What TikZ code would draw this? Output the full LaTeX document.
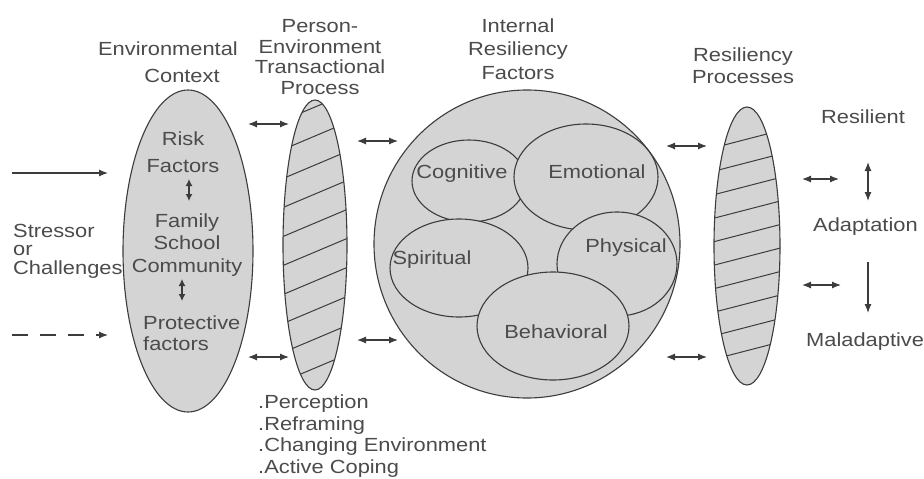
\documentclass[tikz,border=0pt]{standalone}
\usepackage{fontspec}
\setmainfont{Liberation Sans}[FakeStretch=1.15]
\usetikzlibrary{shapes.geometric,arrows.meta}
\definecolor{fillgray}{RGB}{212,212,212}
\definecolor{linegray}{RGB}{60,60,60}
\definecolor{txtgray}{RGB}{75,75,75}
\begin{document}
\begin{tikzpicture}[x=1pt,y=-1pt,
  lbl/.style={text=txtgray,font=\fontsize{19}{21}\selectfont,inner sep=0pt,align=center},
  ell/.style={ellipse,draw=linegray,fill=fillgray,line width=1.1pt,inner sep=0pt},
  hatchline/.style={draw=linegray,line width=1pt},
  arr/.style={draw=linegray,line width=1.2pt,-{Latex[length=9pt,width=7pt]}},
  darr/.style={draw=linegray,line width=1.2pt,{Latex[length=9pt,width=7pt]}-{Latex[length=9pt,width=7pt]}},
  sdarr/.style={draw=linegray,line width=1.2pt,{Latex[length=7pt,width=7pt]}-{Latex[length=7pt,width=7pt]}}
]
\useasboundingbox[fill=white] (0,0) rectangle (924,479);

% main ellipses
\node[ell,minimum width=130pt,minimum height=322pt] (env) at (188,251) {};
\node[ell,minimum width=64pt,minimum height=290pt] (pe) at (315,245) {};
\begin{scope}
  \clip (315,245) ellipse [x radius=32, y radius=145];
  \foreach \yl in {126,155,...,390} \draw[hatchline] (270,\yl) -- (360,\yl-38);
\end{scope}

\node[ell,minimum width=306pt,minimum height=308pt] (big) at (527,244) {};
\node[ell,minimum width=114pt,minimum height=82pt] (cog) at (469,181) {};
\node[ell,minimum width=144pt,minimum height=106pt] (emo) at (586,177) {};
\node[ell,minimum width=138pt,minimum height=98pt] (spi) at (459,268) {};
\node[ell,minimum width=120pt,minimum height=104pt] (phy) at (617,264) {};
\node[ell,minimum width=152pt,minimum height=108pt] (beh) at (553,326) {};

\node[ell,minimum width=66pt,minimum height=278pt] (rp) at (747,246) {};
\begin{scope}
  \clip (747,246) ellipse [x radius=33, y radius=139];
  \foreach \yl in {150,173.5,...,380} \draw[hatchline] (705,\yl) -- (790,\yl-22);
\end{scope}

% inner labels
\node[lbl] (cogl) at (462,174) {Cognitive};
\node[lbl] (emol) at (597,172) {Emotional};
\node[lbl] (spil) at (432,260) {Spiritual};
\node[lbl] (phyl) at (626,248) {Physical};
\node[lbl] (behl) at (556,332) {Behavioral};

% headings
\node[lbl] (envt1) at (168,49) {Environmental};
\node[lbl] (envt2) at (182,76) {Context};
\node[lbl,font=\fontsize{19}{20.8}\selectfont] (pet) at (320,57) {Person-\\Environment\\Transactional\\Process};
\node[lbl,font=\fontsize{19}{23.5}\selectfont] (irf) at (518,49) {Internal\\Resiliency\\Factors};
\node[lbl,font=\fontsize{19}{22}\selectfont] (rpt) at (743,66) {Resiliency\\Processes};
\node[lbl] (resil) at (863,117) {Resilient};
\node[lbl,anchor=west] (adapt) at (813,227) {Adaptation};
\node[lbl,anchor=west] (malad) at (806,342) {Maladaptive};

\node[lbl,anchor=west,align=left,font=\fontsize{19}{18.5}\selectfont] (stress) at (13,251) {Stressor\\or\\Challenges};
\node[lbl,font=\fontsize{19}{27}\selectfont] (risk) at (183,152) {Risk\\Factors};
\node[lbl,font=\fontsize{19}{22.5}\selectfont] (fsc) at (187,245) {Family\\School\\Community};
\node[lbl,anchor=west,align=left] (prot) at (143,333) {Protective\\factors};
\node[lbl,anchor=west,align=left,font=\fontsize{19}{21.8}\selectfont] (coping) at (258,436) {.Perception\\.Reframing\\.Changing Environment\\.Active Coping};

% arrow end points
\coordinate (s1a) at (12,173);  \coordinate (s1b) at (108,173);
\coordinate (s2a) at (12,335);  \coordinate (s2b) at (108,335);
\coordinate (a1a) at (248,124); \coordinate (a1b) at (289,124);
\coordinate (a2a) at (248,357); \coordinate (a2b) at (289,357);
\coordinate (b1a) at (357,141); \coordinate (b1b) at (398,141);
\coordinate (b2a) at (357,340); \coordinate (b2b) at (398,340);
\coordinate (c1a) at (666,146); \coordinate (c1b) at (707,146);
\coordinate (c2a) at (666,357); \coordinate (c2b) at (707,357);
\coordinate (d1a) at (802,179); \coordinate (d1b) at (839,179);
\coordinate (d2a) at (802,285); \coordinate (d2b) at (841,285);
\coordinate (v1a) at (868,162); \coordinate (v1b) at (868,201);
\coordinate (v2a) at (868,262); \coordinate (v2b) at (868,313);
\coordinate (r1a) at (189,179); \coordinate (r1b) at (189,201);
\coordinate (r2a) at (182,279); \coordinate (r2b) at (182,301);

\draw[arr] (s1a) -- (s1b);
\draw[arr,dash pattern=on 16pt off 12pt] (s2a) -- (s2b);
\draw[darr] (a1a) -- (a1b);
\draw[darr] (a2a) -- (a2b);
\draw[darr] (b1a) -- (b1b);
\draw[darr] (b2a) -- (b2b);
\draw[darr] (c1a) -- (c1b);
\draw[darr] (c2a) -- (c2b);
\draw[darr] (d1a) -- (d1b);
\draw[darr] (d2a) -- (d2b);
\draw[darr] (v1a) -- (v1b);
\draw[arr] (v2a) -- (v2b);
\draw[sdarr] (r1a) -- (r1b);
\draw[sdarr] (r2a) -- (r2b);
\end{tikzpicture}
\end{document}
